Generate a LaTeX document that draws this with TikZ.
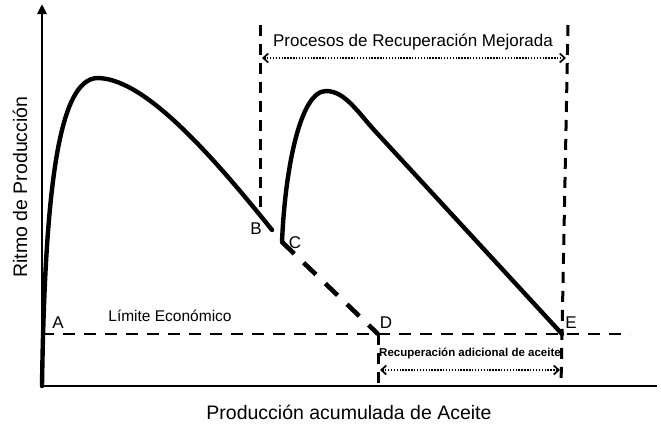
\documentclass[tikz,border=0pt]{standalone}
\usepackage{fontspec}
\setmainfont{Liberation Sans}
\usepackage{tikz}
\usetikzlibrary{arrows.meta}
\usetikzlibrary{positioning}

\begin{document}
\begin{tikzpicture}[x=1pt, y=-1pt,
            curva/.style={line width=4.4pt, line cap=round, line join=round},
            guia/.style={line width=3pt, dash pattern=on 11pt off 8pt},
            limiteeco/.style={line width=2.6pt, dash pattern=on 12pt off 9pt},
            cota/.style={line width=1.4pt, dash pattern=on 1.4pt off 1.5pt,
                {Straight Barb[length=5pt,width=9pt,line width=1.7pt]}-{Straight Barb[length=5pt,width=9pt,line width=1.7pt]}},
            letra/.style={font=\fontsize{17}{17}\selectfont}]
            \useasboundingbox (0,0) rectangle (661,429);
            % puntos
            \coordinate (O)  at ( 42,386);
            \coordinate (Y)  at ( 42,  4);
            \coordinate (X)  at (657,386);
            \coordinate (A)  at ( 42,334);
            \coordinate (F)  at (630,334);
            \coordinate (B)  at (272,230);
            \coordinate (C)  at (282,242);
            \coordinate (D)  at (378,334);
            \coordinate (E)  at (562,334);
            \coordinate (D0) at (378,386);
            \coordinate (E0) at (561,386);
            \coordinate (P1) at (260, 25);
            \coordinate (P2) at (260,207);
            \coordinate (Q1) at (568, 25);
            \coordinate (M1) at (262, 58);
            \coordinate (M2) at (566, 58);
            \coordinate (N1) at (380,370);
            \coordinate (N2) at (560,370);
            % ejes
            \draw[line width=2pt] (O) -- (X);
            \draw[line width=2.6pt, -{Triangle[length=10pt,width=9pt]}] (O) -- (Y);
            % guias
            \draw[limiteeco] (A) -- (F);
            \draw[guia] (P1) -- (P2);
            \draw[guia] (Q1) -- (E0);
            \draw[guia] (D) -- (D0);
            % curvas
            \draw[curva] (O) .. controls ( 45,180) and ( 60, 80) .. ( 97, 78)
                             .. controls (140, 78) and (200,140) .. (B);
            \draw[curva] (C) .. controls (285,170) and (300, 91) .. (326, 91)
                             .. controls (345, 91) and (358,112.5) .. (375,131) -- (E);
            \draw[line width=4.6pt, dash pattern=on 17pt off 13pt] (C) -- (D);
            % cotas
            \draw[cota] (M1) -- (M2);
            \draw[cota] (N1) -- (N2);
            % textos
            \node[letra] (lA) at ( 58,323) {A};
            \node[letra] (lB) at (256,229) {B};
            \node[letra] (lC) at (295,243) {C};
            \node[letra] (lD) at (386,323) {D};
            \node[letra] (lE) at (571,323) {E};
            \node[font=\fontsize{17}{17}\selectfont] (titulo) at (413,42) {Procesos de Recuperación Mejorada};
            \node[font=\fontsize{15.5}{16}\selectfont] (textolimite) at (170,316) {Límite Económico};
            \node[font=\bfseries\fontsize{11.5}{12}\selectfont] (adicional) at (470,353) {Recuperación adicional de aceite};
            \node[font=\fontsize{19.5}{20}\selectfont] (ejex) at (349,412) {Producción acumulada de Aceite};
            \node[font=\fontsize{19.5}{20}\selectfont, rotate=90] (ejey) at (20,187) {Ritmo de Producción};
        \end{tikzpicture}
\end{document}
